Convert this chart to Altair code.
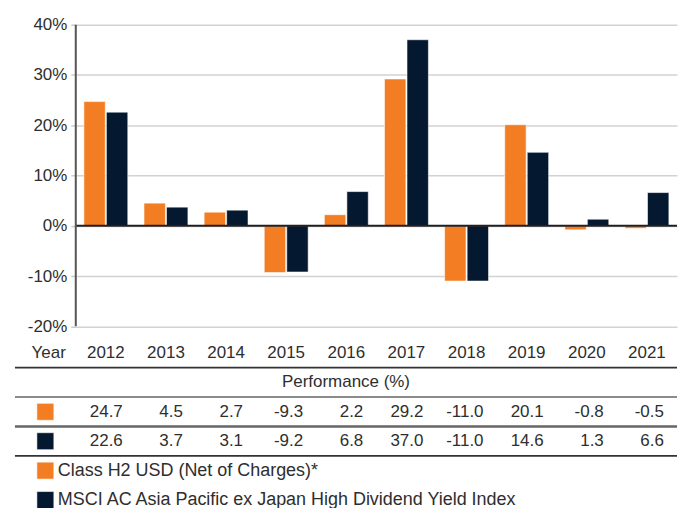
import altair as alt
import pandas as pd

# ---- data ----
years = ["2012", "2013", "2014", "2015", "2016", "2017", "2018", "2019", "2020", "2021"]
fund = [24.7, 4.5, 2.7, -9.3, 2.2, 29.2, -11.0, 20.1, -0.8, -0.5]
bench = [22.6, 3.7, 3.1, -9.2, 6.8, 37.0, -11.0, 14.6, 1.3, 6.6]
series_names = [
    "Class H2 USD (Net of Charges)*",
    "MSCI AC Asia Pacific ex Japan High Dividend Yield Index",
]
y_ticks = [-20, -10, 0, 10, 20, 30, 40]
year_header = "Year"
table_title = "Performance (%)"

# ---- style ----
FONT = "Liberation Sans, Arial, Helvetica, sans-serif"
TXT = "#2e2e2e"
FS = 17
fill_colors = ["#F37D22", "#041830"]

# ---- tables built from the arrays ----
recs = []
for name, vals, r in [(series_names[0], fund, 1), (series_names[1], bench, 2)]:
    for yr, v in zip(years, vals):
        recs.append({"year": yr, "series": name, "value": v,
                     "label": f"{v:.1f}", "row": r + 0.5})
long = pd.DataFrame(recs)

one = pd.DataFrame({"k": [0]})
year_df = pd.DataFrame({"year": years, "row": [-0.5] * len(years)})
hdr_df = pd.DataFrame({"t": [year_header], "row": [-0.5]})
ttl_df = pd.DataFrame({"t": [table_title], "row": [0.5]})
lines_df = pd.DataFrame({"row": [0, 1, 2, 3], "style": ["dark", "grey", "mid", "dark"]})
swatch_df = pd.DataFrame({"series": series_names * 2, "row": [1.5, 2.5, 3.5, 4.5]})
legend_df = pd.DataFrame({"series": series_names, "row": [3.5, 4.5]})

color_scale = alt.Scale(domain=series_names, range=fill_colors)
x_enc = alt.X("year:N", sort=years,
              scale=alt.Scale(paddingInner=0.27, paddingOuter=0.135), axis=None)
ybar_scale = alt.Scale(domain=[-55.6, 40], nice=False, zero=False)
tscale = alt.Scale(domain=[-11.661, 4.678], reverse=True, nice=False, zero=False)

# ---- bar group ----
bars = alt.Chart(long).mark_bar(stroke="white", strokeOpacity=0.55, strokeWidth=1).encode(
    x=x_enc,
    xOffset=alt.XOffset("series:N", sort=series_names,
                        scale=alt.Scale(paddingInner=0.05, paddingOuter=0)),
    y=alt.Y("value:Q", scale=ybar_scale,
            axis=alt.Axis(values=y_ticks, labelExpr="datum.value + '%'", title=None,
                          grid=True, gridColor="#d2d2d2", gridWidth=1.5,
                          domain=False, tickSize=5, tickColor="#cccccc", tickWidth=1.5,
                          labelPadding=4, labelFontSize=FS, labelColor=TXT,
                          labelFont=FONT)),
    color=alt.Color("series:N", scale=color_scale, legend=None),
)
zero_rule = alt.Chart(one).mark_rule(color="#231F20", strokeWidth=2).encode(
    y=alt.Y(datum=0))
axis_rule = alt.Chart(one).mark_rule(color="#555555", strokeWidth=2).encode(
    x=alt.value(0), y=alt.Y(datum=-20), y2=alt.Y2(datum=40))
bar_group = alt.layer(bars, zero_rule, axis_rule)

# ---- table group ----
ty = alt.Y("row:Q", scale=tscale, axis=None)
hlines = alt.Chart(lines_df).mark_rule().encode(
    y=ty, x=alt.value(-61), x2=alt.value(603),
    stroke=alt.Stroke("style:N", scale=alt.Scale(domain=["dark", "grey", "mid"],
                                                 range=["#333333", "#8c8c8c", "#666666"]),
                      legend=None),
    strokeWidth=alt.StrokeWidth("style:N", scale=alt.Scale(domain=["dark", "grey", "mid"],
                                                           range=[1.6, 2.4, 1.3]),
                                legend=None),
)
year_text = alt.Chart(year_df).mark_text(font=FONT, fontSize=FS, color=TXT,
                                         baseline="middle").encode(
    x=alt.X("year:N", sort=years, axis=None), y=ty, text="year:N")
hdr_text = alt.Chart(hdr_df).mark_text(font=FONT, fontSize=FS, color=TXT, align="right",
                                       baseline="middle").encode(
    x=alt.value(-10), y=ty, text="t:N")
ttl_text = alt.Chart(ttl_df).mark_text(font=FONT, fontSize=FS, color=TXT,
                                       baseline="middle").encode(
    x=alt.value(271), y=ty, text="t:N")
val_text = alt.Chart(long).mark_text(font=FONT, fontSize=FS, color=TXT, align="right",
                                     dx=17, baseline="middle").encode(
    x=alt.X("year:N", sort=years, axis=None), y=ty, text="label:N")
swatches = alt.Chart(swatch_df).mark_square(size=289, opacity=1, stroke="white",
                                            strokeOpacity=0.55, strokeWidth=1).encode(
    x=alt.value(-30.5), y=ty,
    color=alt.Color("series:N", scale=color_scale, legend=None))
legend_text = alt.Chart(legend_df).mark_text(font=FONT, fontSize=18, color=TXT,
                                             align="left", baseline="middle").encode(
    x=alt.value(-18), y=ty, text="series:N")
table_group = alt.layer(hlines, year_text, hdr_text, ttl_text, val_text, swatches,
                        legend_text)

chart = alt.layer(bar_group, table_group).resolve_scale(y="independent").properties(
    width=603, height=482,
    padding={"left": 13, "top": 15, "right": 0, "bottom": 0},
    background="white",
).configure_view(stroke=None)

chart.save("out.html", embed_options={"renderer": "svg", "actions": False})
